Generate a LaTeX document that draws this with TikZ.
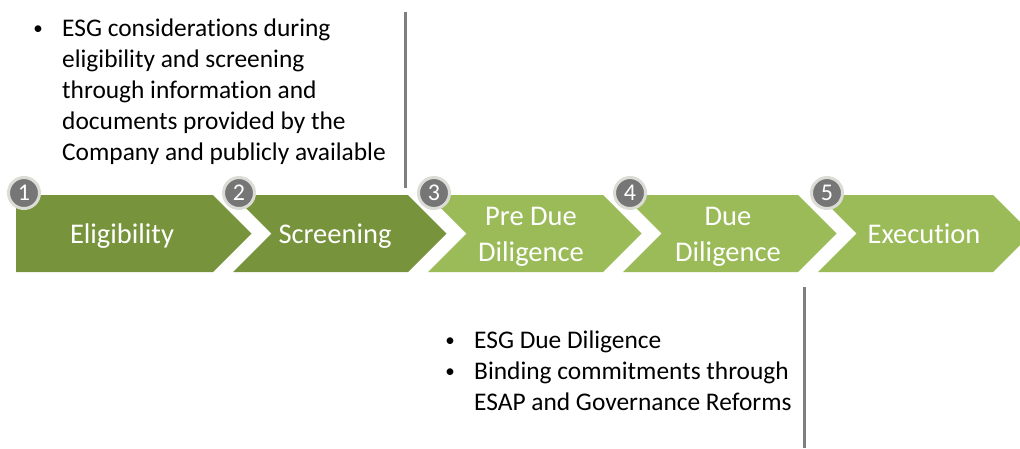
\documentclass[tikz,border=0pt]{standalone}
\usepackage{fontspec}
\setmainfont{Carlito}[Ligatures=NoCommon]

\definecolor{darkolive}{HTML}{77933C}
\definecolor{lightolive}{HTML}{9BBB59}
\definecolor{numgray}{HTML}{767676}
\definecolor{ringgray}{HTML}{DCDCD6}
\definecolor{rulegray}{HTML}{7F7F7F}

\tikzset{
  steplabel/.style={text=white, font=\fontsize{28.5}{36}\selectfont, align=center, inner sep=0pt, anchor=base},
  stepnum/.style={circle, fill=numgray, draw=ringgray, line width=3pt, minimum size=31pt,
    inner sep=0pt, text=white, font=\fontsize{24}{24}\selectfont},
  notetext/.style={font=\fontsize{25.4}{31}\selectfont, align=left, inner sep=0pt, anchor=base west},
  notedot/.style={font=\fontsize{19}{19}\selectfont, inner sep=0pt, anchor=base},
}

\begin{document}
\begin{tikzpicture}[x=1pt,y=-1pt]
  \useasboundingbox (0,0) rectangle (1020,448);

  % chevrons
  \fill[darkolive] (16,195) -- (213,195) -- (251.5,233.5) -- (213,272) -- (16,272) -- cycle;
  \foreach \k/\col in {1/darkolive,2/lightolive,3/lightolive,4/lightolive}
    \fill[\col] ({38+195*\k},195) -- ({213+195*\k},195) -- ({251.5+195*\k},233.5)
      -- ({213+195*\k},272) -- ({38+195*\k},272) -- ({76.5+195*\k},233.5) -- cycle;

  % step names (base = last line)
  \node[steplabel] (elig) at (122,243) {Eligibility};
  \node[steplabel] (screen) at (335,243) {Screening};
  \node[steplabel] (predd) at (531,261) {Pre Due\\Diligence};
  \node[steplabel] (dd) at (728,261) {Due\\Diligence};
  \node[steplabel] (exec) at (924,243) {Execution};

  % numbers
  \foreach \n/\x in {1/24,2/239,3/434,4/630,5/827}
    \node[stepnum] (num\n) at (\x,193) {\n};

  % separators
  \coordinate (upA) at (405,12);
  \coordinate (upB) at (405,188);
  \coordinate (lowA) at (804,287);
  \coordinate (lowB) at (804,448);
  \draw[rulegray, line width=3pt] (upA) -- (upB);
  \draw[rulegray, line width=3pt] (lowA) -- (lowB);

  % notes
  \node[notedot] (dotA) at (38,34) {•};
  \node[notetext] (noteA) at (62,160) {ESG considerations during\\eligibility and screening\\through information and\\documents provided by the\\Company and publicly available};
  \node[notedot] (dotB) at (450,346) {•};
  \node[notetext] (noteB) at (474,348) {ESG Due Diligence};
  \node[notedot] (dotC) at (450,377) {•};
  \node[notetext] (noteC) at (474,410) {Binding commitments through\\ESAP and Governance Reforms};
\end{tikzpicture}
\end{document}
